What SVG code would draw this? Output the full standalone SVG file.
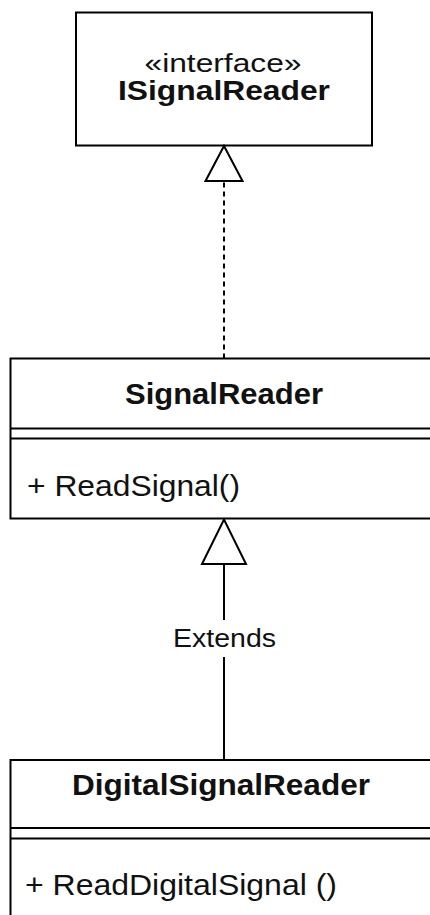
<svg xmlns="http://www.w3.org/2000/svg" width="430" height="915" viewBox="0 0 430 915">
  <style>
    .box { fill: #ffffff; stroke: #000000; stroke-width: 2; }
    .rule { stroke: #000000; stroke-width: 2; fill: none; }
    .edge { stroke: #000000; stroke-width: 2; fill: none; }
    .dashed { stroke-dasharray: 5 4; }
    .name { font-family: "Liberation Sans", Arial, Helvetica, sans-serif; font-weight: bold; fill: #111111; text-anchor: middle; }
    .stereo { font-family: "Liberation Sans", Arial, Helvetica, sans-serif; fill: #111111; text-anchor: middle; }
    .member { font-family: "Liberation Sans", Arial, Helvetica, sans-serif; fill: #111111; }
    .label { font-family: "Liberation Sans", Arial, Helvetica, sans-serif; fill: #111111; text-anchor: middle; }
    .head { fill: #ffffff; stroke: #000000; stroke-width: 2; stroke-linejoin: miter; }
  </style>
  <defs>
    <!-- hollow triangle for interface realization -->
    <marker id="realize" markerUnits="userSpaceOnUse" viewBox="0 0 40 42" markerWidth="40" markerHeight="42" refX="37" refY="21" orient="auto" overflow="visible">
      <path class="head" d="M2,2.5 L37,21 L2,39.5 Z"/>
    </marker>
    <!-- hollow triangle for generalization -->
    <marker id="extend" markerUnits="userSpaceOnUse" viewBox="0 0 48 48" markerWidth="48" markerHeight="48" refX="46.5" refY="24" orient="auto" overflow="visible">
      <path class="head" d="M2,2 L46.5,24 L2,46 Z"/>
    </marker>
  </defs>

  <rect width="430" height="915" fill="#ffffff"/>

  <!-- ISignalReader interface -->
  <g id="ISignalReader">
    <rect class="box" x="76" y="12.5" width="296" height="133"/>
    <text class="stereo" x="223" y="71.5" font-size="25" textLength="157" lengthAdjust="spacingAndGlyphs">«interface»</text>
    <text class="name" x="224" y="100" font-size="28" textLength="212" lengthAdjust="spacingAndGlyphs">ISignalReader</text>
  </g>

  <!-- SignalReader class -->
  <g id="SignalReader">
    <rect class="box" x="10.5" y="358.5" width="440" height="160"/>
    <line class="rule" x1="10.5" y1="428.5" x2="450" y2="428.5"/>
    <line class="rule" x1="10.5" y1="438.5" x2="450" y2="438.5"/>
    <text class="name" x="224" y="403.5" font-size="30" textLength="198" lengthAdjust="spacingAndGlyphs">SignalReader</text>
    <text class="member" x="27" y="495.5" font-size="30" textLength="213" lengthAdjust="spacingAndGlyphs">+ ReadSignal()</text>
  </g>

  <!-- DigitalSignalReader class -->
  <g id="DigitalSignalReader">
    <rect class="box" x="10.5" y="760" width="440" height="200"/>
    <line class="rule" x1="10.5" y1="828" x2="450" y2="828"/>
    <line class="rule" x1="10.5" y1="838.5" x2="450" y2="838.5"/>
    <text class="name" x="221" y="795" font-size="30" textLength="298" lengthAdjust="spacingAndGlyphs">DigitalSignalReader</text>
    <text class="member" x="25" y="895" font-size="30" textLength="312" lengthAdjust="spacingAndGlyphs">+ ReadDigitalSignal ()</text>
  </g>

  <!-- connectors -->
  <g id="connectors">
    <path class="edge dashed" d="M224,358.5 L224,146" marker-end="url(#realize)"/>
    <path class="edge" d="M224,760 L224,519.5" marker-end="url(#extend)"/>
    <rect x="168" y="620" width="112" height="37" fill="#ffffff"/>
    <text class="label" x="224.5" y="646.5" font-size="26.5" textLength="103" lengthAdjust="spacingAndGlyphs">Extends</text>
  </g>
</svg>
